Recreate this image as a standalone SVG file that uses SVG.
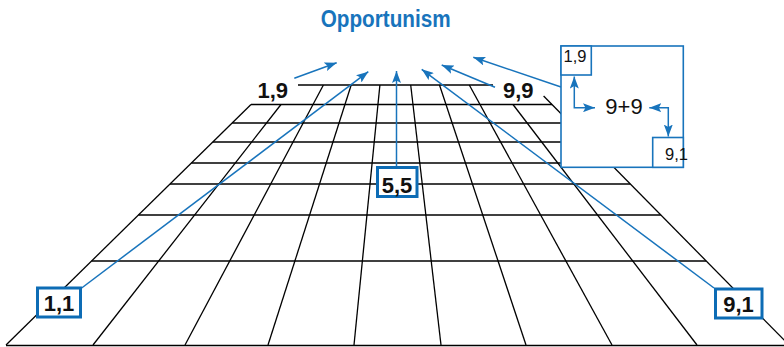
<svg xmlns="http://www.w3.org/2000/svg" width="784" height="347" viewBox="0 0 784 347">
<defs>
<style>
.g{stroke:#000;stroke-width:1.3;fill:none}
.c{stroke:#1874bc;stroke-width:1.5;fill:none}
.bx{fill:#fff;stroke:#0d6cb5;stroke-width:3}
.lb{font-family:"Liberation Sans",Arial,sans-serif;font-weight:bold;font-size:22px;fill:#111}
.sm{font-family:"Liberation Sans",Arial,sans-serif;font-size:16.5px;fill:#111}
</style>
<marker id="ah" markerUnits="userSpaceOnUse" markerWidth="12" markerHeight="9" viewBox="0 0 12 9" refX="12" refY="4.5" orient="auto-start-reverse">
<path d="M0,0 L12,4.5 L0,9 L2.5,4.5 z" fill="#1874bc"/>
</marker>
</defs>
<rect width="784" height="347" fill="#fff"/>
<text x="385.7" y="26.5" text-anchor="middle" textLength="130" lengthAdjust="spacingAndGlyphs" style="font-family:'Liberation Sans',Arial,sans-serif;font-weight:bold;font-size:23px;fill:#1874bc">Opportunism</text>
<g id="grid" class="g">
<line x1="298" y1="85" x2="493" y2="85"/>
<line x1="251" y1="104.5" x2="552" y2="104.5"/>
<line x1="232.2" y1="123" x2="570.2" y2="123"/>
<line x1="212.8" y1="142" x2="588.9" y2="142"/>
<line x1="191.4" y1="163" x2="609.6" y2="163"/>
<line x1="170" y1="184" x2="630.3" y2="184"/>
<line x1="138.4" y1="215" x2="660.8" y2="215"/>
<line x1="91.6" y1="261" x2="706.2" y2="261"/>
<line x1="6" y1="345.5" x2="784" y2="345.5" stroke-width="1.6"/>
<line x1="251" y1="104.5" x2="6" y2="345"/>
<line x1="281" y1="104.5" x2="93" y2="345"/>
<line x1="323.4" y1="85" x2="185" y2="345"/>
<line x1="351.2" y1="85" x2="268" y2="345"/>
<line x1="379.9" y1="85" x2="354" y2="345"/>
<line x1="410.7" y1="85" x2="441" y2="345"/>
<line x1="439.5" y1="85" x2="526" y2="345"/>
<line x1="469.3" y1="85" x2="612" y2="345"/>
<line x1="513" y1="104.5" x2="697" y2="345"/>
<line x1="543.6" y1="96" x2="789" y2="345"/>
</g>
<g id="connectors" class="c">
<line x1="294.3" y1="78.3" x2="336.7" y2="62.7" marker-end="url(#ah)"/>
<line x1="81" y1="288.5" x2="368.3" y2="71.7" marker-end="url(#ah)"/>
<line x1="396.5" y1="166" x2="396.5" y2="71" marker-end="url(#ah)"/>
<line x1="714" y1="288" x2="421.7" y2="69.3" marker-end="url(#ah)"/>
<line x1="495" y1="87.3" x2="441.7" y2="65" marker-end="url(#ah)"/>
<line x1="561" y1="87" x2="473.3" y2="57.3" marker-end="url(#ah)"/>
</g>
<g id="n19">
<text class="lb" x="257.5" y="98">1,9</text>
</g>
<g id="n99">
<text class="lb" x="503" y="98">9,9</text>
</g>
<g id="n55">
<rect class="bx" x="377.5" y="167.5" width="39.5" height="29"/>
<text class="lb" x="397" y="192.5" text-anchor="middle">5,5</text>
</g>
<g id="n11">
<rect class="bx" x="37.5" y="288" width="43" height="29"/>
<text class="lb" x="59" y="310.5" text-anchor="middle">1,1</text>
</g>
<g id="n91">
<rect class="bx" x="715.5" y="289" width="46.5" height="29"/>
<text class="lb" x="738.5" y="312" text-anchor="middle">9,1</text>
</g>
<g id="n9p9">
<rect x="561" y="46" width="122.3" height="121.3" fill="#fff" stroke="#1874bc" stroke-width="1.6"/>
<rect x="561" y="46" width="30.3" height="29" fill="#fff" stroke="#1874bc" stroke-width="1.6"/>
<rect x="652.7" y="137.5" width="30.6" height="29.8" fill="#fff" stroke="#1874bc" stroke-width="1.6"/>
<text class="sm" x="563.5" y="62">1,9</text>
<text class="sm" x="665" y="160">9,1</text>
<text x="624" y="114" text-anchor="middle" style="font-family:'Liberation Sans',Arial,sans-serif;font-size:22px;fill:#111">9+9</text>
<path class="c" d="M574.3,76.5 L574.3,107.7 L595,107.7" marker-start="url(#ah)" marker-end="url(#ah)"/>
<path class="c" d="M649.3,107.7 L668.3,107.7 L668.3,136.5" marker-start="url(#ah)" marker-end="url(#ah)"/>
</g>
</svg>
